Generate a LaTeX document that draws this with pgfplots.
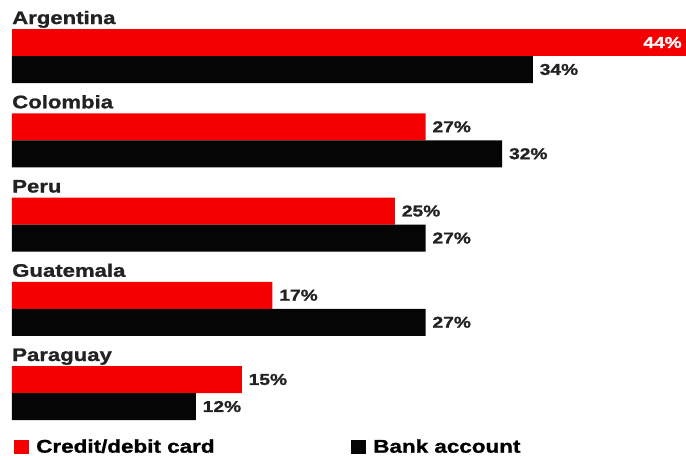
\documentclass[border=0pt]{standalone}
\usepackage{fontspec}
\setmainfont{Liberation Sans}[FakeStretch=1.22, BoldFeatures={FakeBold=1.2}]
\usepackage{pgfplots}
\pgfplotsset{compat=1.18}
\definecolor{cred}{RGB}{245,0,0}
\definecolor{cblk}{RGB}{5,5,5}
\definecolor{ctxt}{RGB}{34,34,34}
\begin{document}
\begin{tikzpicture}
\useasboundingbox (0,0) rectangle (514.5pt,341.25pt);
\begin{axis}[
  at={(9pt,0pt)}, anchor=south west, scale only axis,
  width=505.5pt, height=341.25pt,
  xmin=0, xmax=44, ymin=0, ymax=455, y dir=reverse,
  hide axis, clip=false,
  xbar, bar width=20.25pt, bar shift=0pt,
  point meta=x,
  /pgf/number format/assume math mode=true,
  nodes near coords={\pgfmathprintnumber{\pgfplotspointmeta}\%},
  nodes near coords style={font=\bfseries\fontsize{11.8}{12}\selectfont, text=ctxt, anchor=west, inner xsep=5pt},
  legend style={at={(axis cs:0.13,447)}, anchor=west, draw=none, fill=none, inner sep=0pt,
    legend columns=2, font=\bfseries\fontsize{13.8}{14}\selectfont,
    nodes={inner xsep=5.5pt},
    /tikz/every even column/.append style={column sep=97pt}},
  legend image code/.code={\fill[#1] (0pt,-5.5pt) rectangle (11pt,5.5pt);},
]
\addplot[fill=cred, draw=none, nodes near coords style={text=white, anchor=east, inner xsep=3pt}, forget plot]
  coordinates {(44,42.5)};
\addplot[fill=cred, draw=none]
  coordinates {(27,126.75) (25,211) (17,295.25) (15,379.5)};
\addlegendentry{Credit/debit card}
\addplot[fill=cblk, draw=none]
  coordinates {(34,69.5) (32,153.75) (27,238) (27,322.25) (12,406.5)};
\addlegendentry{Bank account}
\begin{scope}[every node/.style={anchor=base west, inner sep=0pt, text=ctxt, font=\bfseries\fontsize{13.6}{14}\selectfont}]
\node at (axis cs:0,24) {Argentina};
\node at (axis cs:0,108.25) {Colombia};
\node at (axis cs:0,192.5) {Peru};
\node at (axis cs:0,276.75) {Guatemala};
\node at (axis cs:0,361) {Paraguay};
\end{scope}
\end{axis}
\end{tikzpicture}
\end{document}
